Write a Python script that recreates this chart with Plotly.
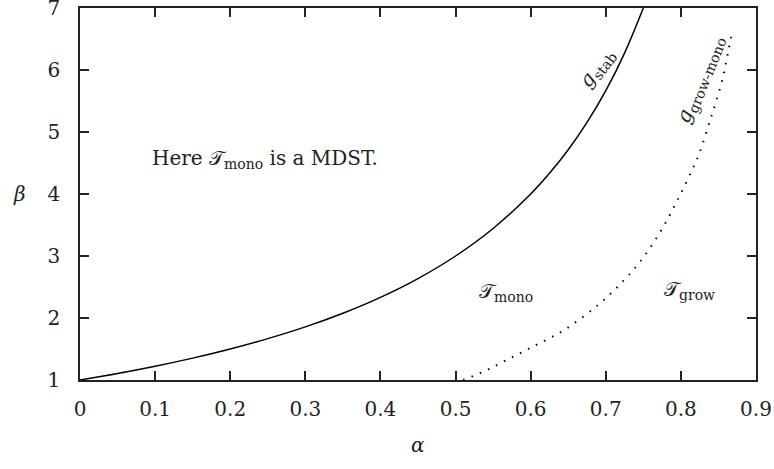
import plotly.graph_objects as go

# g_stab curve (solid)
stab_alpha = [0.0, 0.05, 0.1, 0.15, 0.2, 0.25, 0.3, 0.35, 0.4, 0.45, 0.5, 0.55, 0.6, 0.625, 0.65, 0.675, 0.7, 0.725, 0.75]
stab_beta = [1.0, 1.105, 1.222, 1.353, 1.5, 1.667, 1.857, 2.077, 2.333, 2.636, 3.0, 3.444, 4.0, 4.333, 4.714, 5.154, 5.667, 6.273, 7.0]

# g_grow-mono curve (dotted)
grow_alpha = [0.51, 0.54, 0.566, 0.6, 0.645, 0.692, 0.725, 0.752, 0.776, 0.797, 0.815, 0.824, 0.841, 0.856, 0.863, 0.869]
grow_beta = [1.0, 1.15, 1.31, 1.52, 1.81, 2.235, 2.62, 3.01, 3.46, 3.94, 4.39, 4.64, 5.27, 5.88, 6.3, 6.66]

x_ticks = [0, 0.1, 0.2, 0.3, 0.4, 0.5, 0.6, 0.7, 0.8, 0.9]
x_tick_labels = ["0", "0.1", "0.2", "0.3", "0.4", "0.5", "0.6", "0.7", "0.8", "0.9"]
y_ticks = [1, 2, 3, 4, 5, 6, 7]
y_tick_labels = ["1", "2", "3", "4", "5", "6", "7"]

FONT = "DejaVu Serif"
INK = "#222222"

fig = go.Figure()
fig.add_trace(go.Scatter(x=stab_alpha, y=stab_beta, mode="lines", line=dict(color="black", width=1.5, shape="spline"),
                         showlegend=False, hoverinfo="skip"))
fig.add_trace(go.Scatter(x=grow_alpha, y=grow_beta, mode="lines",
                         line=dict(color="black", width=2, dash="1.5px,7.5px", shape="spline"),
                         showlegend=False, hoverinfo="skip"))

ann_font = dict(family=FONT, size=20, color=INK)
T = "\U0001D4AF"
fig.add_annotation(x=0.246, y=4.56, text=f"Here {T}<sub>mono</sub> is a MDST.", showarrow=False, font=ann_font)
fig.add_annotation(x=0.567, y=2.42, text=f"{T}<sub>mono</sub>", showarrow=False, font=ann_font)
fig.add_annotation(x=0.812, y=2.45, text=f"{T}<sub>grow</sub>", showarrow=False, font=ann_font)
fig.add_annotation(x=0.688, y=6.04, text="<i>g</i><sub>stab</sub>", showarrow=False, font=ann_font, textangle=-53)
fig.add_annotation(x=0.826, y=5.85, text="<i>g</i><sub>grow-mono</sub>", showarrow=False, font=ann_font, textangle=-68)
fig.add_annotation(xref="paper", yref="paper", x=-0.09, y=0.5, xanchor="center", yanchor="middle",
                   text="<i>β</i>", showarrow=False, font=ann_font)
fig.add_annotation(xref="paper", yref="paper", x=0.5, y=-0.175, xanchor="center", yanchor="middle",
                   text="<i>α</i>", showarrow=False, font=ann_font)

axis_common = dict(showline=True, linecolor=INK, linewidth=1.5, mirror="ticks", ticks="inside", ticklen=9,
                   tickwidth=1.5, tickcolor=INK, showgrid=False, zeroline=False, automargin=False,
                   ticklabeloverflow="allow",
                   tickfont=dict(family=FONT, size=20, color=INK))
fig.update_xaxes(range=[0, 0.9], tickvals=x_ticks, ticktext=x_tick_labels, ticklabelstandoff=10, **axis_common)
fig.update_yaxes(range=[1, 7], tickvals=y_ticks, ticktext=y_tick_labels, ticklabelstandoff=14, **axis_common)

fig.update_layout(width=774, height=469, margin=dict(l=80, r=18, t=8, b=89),
                  font=dict(family=FONT, color=INK),
                  plot_bgcolor="white", paper_bgcolor="white")
fig.write_html("out.html", config={"displayModeBar": False},
               post_script="document.body.style.margin='0';document.body.style.overflow='hidden';")
